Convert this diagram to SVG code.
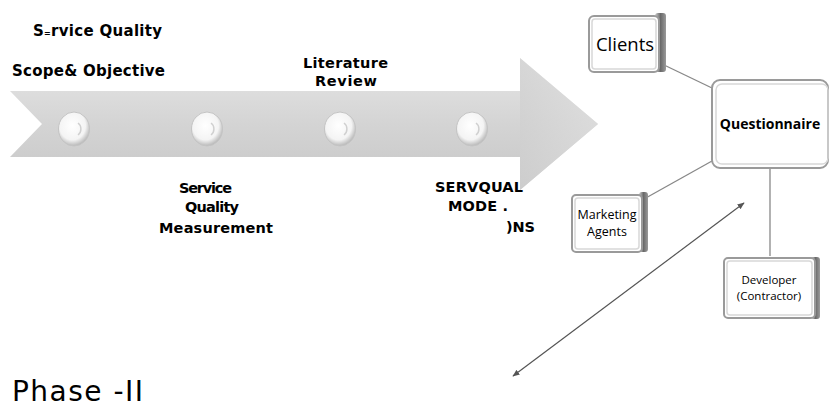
<svg xmlns="http://www.w3.org/2000/svg" width="829" height="412" viewBox="0 0 829 412">
<style>
.t{font-family:"Open Sans","Noto Sans","DejaVu Sans",sans-serif;fill:#000}
.d{font-family:"DejaVu Sans","Noto Sans",sans-serif;font-weight:bold;fill:#000}
.b{font-weight:bold}
.box{fill:#fff;stroke:#9a9a9a;stroke-width:2}
.inner{fill:none;stroke:#d8d8d8;stroke-width:1.5}
.shade{fill:url(#side)}
.ln{stroke:#888;stroke-width:1.3;fill:none}
.btn{fill:url(#btn);stroke:#c4c4c4}
</style>
<defs>
<linearGradient id="arr" x1="0" y1="0" x2="0" y2="1">
<stop offset="0" stop-color="#e6e6e6"/>
<stop offset="0.5" stop-color="#d4d4d4"/>
<stop offset="1" stop-color="#c6c6c6"/>
</linearGradient>
<linearGradient id="head" x1="0" y1="0" x2="1" y2="0">
<stop offset="0" stop-color="#d0d0d0"/>
<stop offset="1" stop-color="#dedede"/>
</linearGradient>
<radialGradient id="btn" cx="0.45" cy="0.4" r="0.6">
<stop offset="0" stop-color="#ffffff"/>
<stop offset="0.7" stop-color="#f4f4f4"/>
<stop offset="1" stop-color="#b8b8b8"/>
</radialGradient>
<linearGradient id="side" x1="0" y1="0" x2="1" y2="0">
<stop offset="0" stop-color="#cfcfcf"/>
<stop offset="0.5" stop-color="#6a6a6a"/>
<stop offset="1" stop-color="#9a9a9a"/>
</linearGradient>
<marker id="ah" viewBox="0 0 10 10" refX="9" refY="5" markerWidth="6" markerHeight="6" orient="auto-start-reverse">
<path d="M0,1 L10,5 L0,9 z" fill="#555"/>
</marker>
</defs>

<g id="timeline">
<path d="M10,91 L520,91 L520,58 L598,124 L520,190 L520,157 L10,157 L42,124 Z" fill="url(#arr)"/>
<path d="M520,58 L598,124 L520,190 Z" fill="url(#head)" opacity="0.7"/>
<g id="btn1"><ellipse cx="74" cy="129" rx="15.5" ry="17" class="btn"/><path d="M78,123 A6,7 0 0 1 78,135" fill="none" stroke="#d0d0d0" stroke-width="1.5"/></g>
<g id="btn2"><ellipse cx="207" cy="129" rx="15.5" ry="17" class="btn"/><path d="M211,123 A6,7 0 0 1 211,135" fill="none" stroke="#d0d0d0" stroke-width="1.5"/></g>
<g id="btn3"><ellipse cx="340" cy="129" rx="15.5" ry="17" class="btn"/><path d="M344,123 A6,7 0 0 1 344,135" fill="none" stroke="#d0d0d0" stroke-width="1.5"/></g>
<g id="btn4"><ellipse cx="472" cy="129" rx="15.5" ry="17" class="btn"/><path d="M476,123 A6,7 0 0 1 476,135" fill="none" stroke="#d0d0d0" stroke-width="1.5"/></g>
</g>

<g id="labels">
<text class="d" x="33" y="36" font-size="15" textLength="129">S<tspan font-size="8">=</tspan>rvice  Quality</text>
<text class="d" x="12" y="76" font-size="15" textLength="153">Scope&amp; Objective</text>
<text class="d" x="303" y="68" font-size="14.5" textLength="85">Literature</text>
<text class="d" x="315" y="86" font-size="14.5" textLength="62">Review</text>
<text class="d" x="179" y="193" font-size="14.5" textLength="53">Service</text>
<text class="d" x="185" y="212" font-size="14.5" textLength="54">Quality</text>
<text class="d" x="159" y="233" font-size="14.5" textLength="114">Measurement</text>
<text class="d" x="435" y="192" font-size="14.5" textLength="88">SERVQUAL</text>
<text class="d" x="448" y="211" font-size="14.5" textLength="60">MODE .</text>
<text class="d" x="506" y="232" font-size="14.5" textLength="29">)NS</text>
<text x="12" y="401" font-size="28" textLength="131" font-family="'DejaVu Sans','Noto Sans',sans-serif" fill="#000">Phase -II</text>
</g>

<g id="connectors">
<line class="ln" x1="662" y1="64" x2="712" y2="88"/>
<line class="ln" x1="712" y1="161" x2="644" y2="199"/>
<line class="ln" x1="770" y1="167" x2="770" y2="256"/>
<line x1="513" y1="376" x2="744" y2="203" stroke="#555" stroke-width="1.2" marker-start="url(#ah)" marker-end="url(#ah)"/>
</g>

<g id="clients">
<rect x="655" y="13" width="11" height="59" rx="3" class="shade"/>
<rect x="589" y="16" width="70" height="56" rx="5" class="box"/>
<rect x="592" y="19" width="64" height="50" rx="3" class="inner"/>
<text class="t" x="625" y="51" font-size="18.5" text-anchor="middle">Clients</text>
</g>

<g id="questionnaire">
<rect x="712" y="80" width="116" height="88" rx="8" class="box"/>
<rect x="716" y="84" width="112" height="80" rx="6" class="inner"/>
<text class="t b" x="770" y="129" font-size="14" text-anchor="middle">Questionnaire</text>
</g>

<g id="marketing">
<rect x="639" y="192" width="9" height="60" rx="3" class="shade"/>
<rect x="572" y="195" width="70" height="57" rx="4" class="box"/>
<rect x="575" y="198" width="64" height="51" rx="3" class="inner"/>
<text class="t" x="607" y="219" font-size="12.5" text-anchor="middle">Marketing</text>
<text class="t" x="607" y="236" font-size="12.5" text-anchor="middle">Agents</text>
</g>

<g id="developer">
<rect x="811" y="257" width="9" height="62" rx="3" class="shade"/>
<rect x="724" y="258" width="91" height="60" rx="4" class="box"/>
<rect x="727" y="261" width="85" height="54" rx="3" class="inner"/>
<text class="t" x="769" y="284" font-size="11.5" text-anchor="middle">Developer</text>
<text class="t" x="769" y="300" font-size="11.5" text-anchor="middle">(Contractor)</text>
</g>
</svg>
